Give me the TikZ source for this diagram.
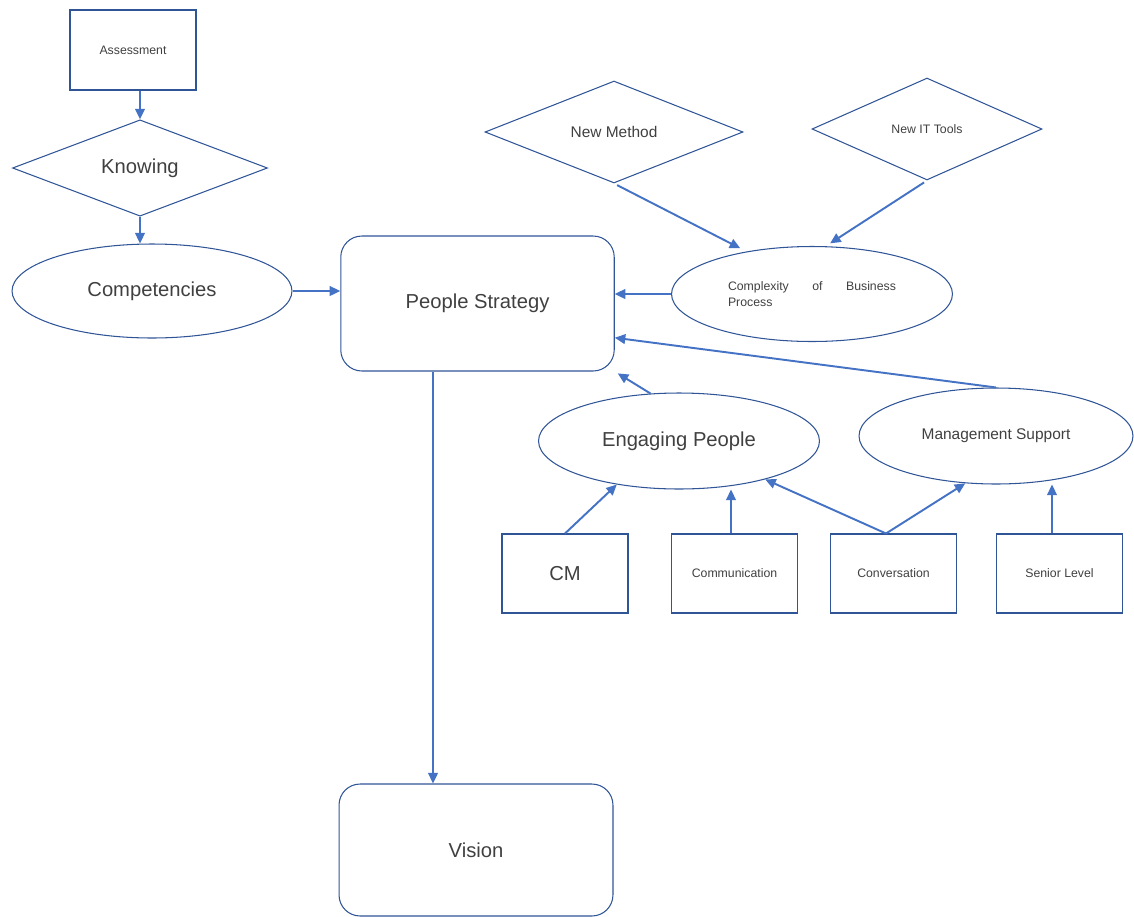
\documentclass[tikz,border=0pt]{standalone}
\usepackage{fontspec}
\setmainfont{Liberation Sans}
\usetikzlibrary{shapes.geometric, positioning, arrows.meta}

\definecolor{edgeblue}{HTML}{2F5597}
\definecolor{flowblue}{HTML}{4472C4}
\definecolor{textgray}{HTML}{404040}

\newcommand{\bigtxt}{\fontsize{11.5}{13}\selectfont}
\newcommand{\midtxt}{\fontsize{8.8}{10}\selectfont}
\newcommand{\smalltxt}{\fontsize{7}{9}\selectfont}

\begin{document}
\begin{tikzpicture}[x=0.02cm,y=-0.02cm,>={Triangle[length=6pt,width=5.5pt]}]

    % Define styles
    \tikzstyle{box} = [rectangle, draw=edgeblue, line width=0.6pt, text=textgray, inner sep=0pt, minimum width=2.52cm, minimum height=1.58cm]
    \tikzstyle{rbox} = [box, rounded corners=12pt, minimum width=5.47cm]
    \tikzstyle{decision} = [diamond, draw=edgeblue, line width=0.6pt, text=textgray, inner sep=0pt, minimum height=2.04cm]
    \tikzstyle{topic} = [ellipse, draw=edgeblue, line width=0.6pt, text=textgray, inner sep=0pt, minimum width=5.62cm, minimum height=1.9cm]
    \tikzstyle{flow} = [->, draw=flowblue, line width=1.1pt]

    \useasboundingbox (0,0) rectangle (1134,917);

    % Left column
    \node[box, minimum height=1.6cm, font=\smalltxt] (assess) at (133,50) {Assessment};
    \node[decision, minimum width=5.1cm, minimum height=1.88cm, font=\bigtxt] (know) at (140,168) {Knowing};
    \node[topic, minimum width=5.6cm, minimum height=1.88cm, font=\bigtxt] (comp) at (152,291) {Competencies};

    % Centre
    \node[rbox, minimum height=2.7cm, font=\bigtxt] (strategy) at (477.5,303.5) {People Strategy};
    \node[rbox, minimum width=5.48cm, minimum height=2.64cm, font=\bigtxt] (vision) at (476,850) {Vision};

    % Drivers
    \node[decision, minimum width=5.16cm, font=\midtxt] (newmethod) at (614,132) {New Method};
    \node[decision, minimum width=4.6cm, font=\smalltxt] (newtools) at (927,129) {New IT Tools};
    \node[topic, font=\smalltxt] (complex) at (812,294) {\parbox{3.36cm}{\makebox[3.36cm][s]{Complexity of Business}\\Process}};

    % Engagement
    \node[topic, minimum height=1.92cm, font=\bigtxt] (engaging) at (679,441) {Engaging People};
    \node[topic, minimum width=5.48cm, minimum height=1.92cm, font=\midtxt] (mgmt) at (996,436) {Management Support};

    % Bottom row
    \node[box, font=\bigtxt] (cm) at (565,573.5) {CM};
    \node[box, font=\smalltxt] (comm) at (734.5,573.5) {Communication};
    \node[box, font=\smalltxt] (conv) at (893.5,573.5) {Conversation};
    \node[box, font=\smalltxt] (senior) at (1059.5,573.5) {Senior Level};

    % Flows
    \draw[flow] (know.north |- assess.south) -- (know.north);
    \draw[flow] (know.south) -- (know.south |- comp.north);
    \draw[flow] (comp.east) -- (comp.east -| strategy.west);
    \draw[flow, shorten <=2pt, shorten >=4pt] (newmethod.south) -- (complex.147);
    \draw[flow, shorten <=2pt, shorten >=3pt] (newtools.south) -- (complex.74);
    \draw[flow] (complex.west) -- (complex.west -| strategy.east);
    \draw[flow] (mgmt.north) -- (strategy.-14);
    \draw[flow, shorten >=2pt] (engaging.121) -- (strategy.south east);
    \coordinate (split) at ([xshift=-0.89cm]strategy.south);
    \draw[flow] (split) -- (split |- vision.north);

    \draw[flow] (cm.north) -- (engaging.215);
    \draw[flow] ([xshift=-0.07cm]comm.north) -- ([xshift=-0.07cm]comm.north |- engaging.south);
    \draw[flow] ([xshift=-0.15cm]conv.north) -- (engaging.-24);
    \draw[flow] ([xshift=-0.15cm]conv.north) -- (mgmt.237);
    \draw[flow] ([xshift=-0.15cm]senior.north) -- ([xshift=-0.15cm]senior.north |- mgmt.south);

\end{tikzpicture}
\end{document}
